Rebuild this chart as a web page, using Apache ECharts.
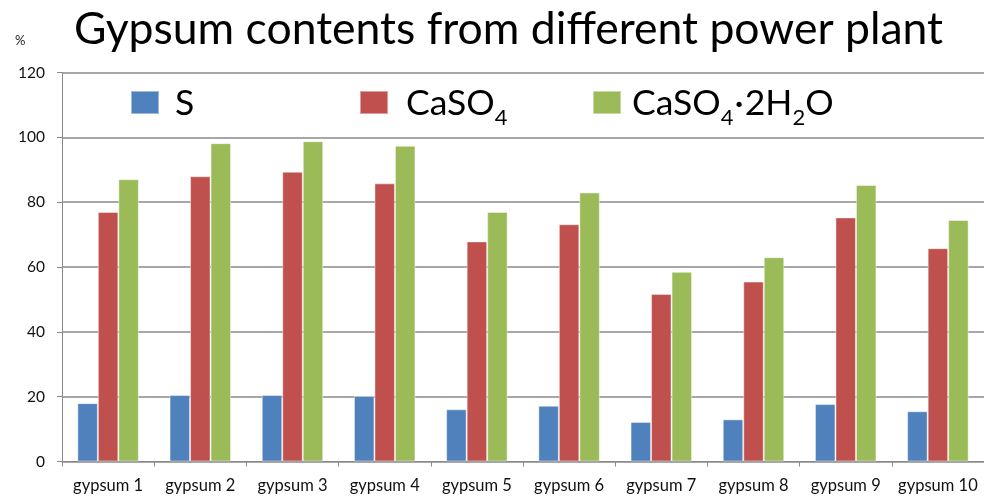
<!DOCTYPE html>
<html>
<head>
<meta charset="utf-8">
<script src="https://cdn.jsdelivr.net/npm/echarts@6/dist/echarts.min.js"></script>
<style>
  html, body { margin: 0; padding: 0; background: #fff; }
  #chart { width: 984px; height: 496px; }
</style>
</head>
<body>
<div id="chart"></div>
<script>
// Plant samples along the x axis
const categories = ['gypsum 1', 'gypsum 2', 'gypsum 3', 'gypsum 4', 'gypsum 5',
                    'gypsum 6', 'gypsum 7', 'gypsum 8', 'gypsum 9', 'gypsum 10'];
// Content in percent for each sample
const sulfur    = [18.0, 20.5, 20.5, 20.2, 16.1, 17.2, 12.2, 13.0, 17.7, 15.5];
const caso4     = [77.0, 88.0, 89.4, 85.8, 67.9, 73.2, 51.7, 55.5, 75.3, 65.8];
const dihydrate = [87.1, 98.2, 98.8, 97.4, 77.0, 83.0, 58.5, 63.0, 85.3, 74.5];
const yTicks = [0, 20, 40, 60, 80, 100, 120];

const FONT = 'Lato, "Open Sans", sans-serif';
const GRID_COLOR = '#8a8a8a';

// Formula labels: subscripts sit in a short box pinned to the line bottom
const legendRich = {
  n: { fontSize: 35.5, fontFamily: FONT, color: '#000', height: 40 },
  d: { fontSize: 35.5, fontFamily: FONT, color: '#000', height: 40, padding: [0, 1, 0, 1] },
  s: { fontSize: 22, fontFamily: FONT, color: '#000', height: 12, verticalAlign: 'bottom' }
};

function legendFor(name, left, gap) {
  return {
    data: [name],
    left: left,
    top: 86,
    itemWidth: 28,
    itemHeight: 23,
    itemGap: 0,
    icon: 'rect',
    padding: 0,
    textStyle: { rich: legendRich, padding: [3, 0, 0, gap] },
    formatter: function (n) {
      if (n === 'S') return '{n|S}';
      if (n === 'CaSO4') return '{n|CaSO}{s|4}';
      return '{n|CaSO}{s|4}{d|·}{n|2H}{s|2}{n|O}';
    }
  };
}

const barBorder = { borderColor: 'rgba(255,255,255,0.45)', borderWidth: 1 };

const chart = echarts.init(document.getElementById('chart'), null, { renderer: 'canvas' });
chart.setOption({
  animation: false,
  backgroundColor: '#fff',
  title: {
    text: 'Gypsum contents from different power plant',
    left: 69,
    top: 2,
    textStyle: { fontFamily: FONT, fontSize: 44.5, fontWeight: 'normal', color: '#000' }
  },
  graphic: [{
    type: 'text',
    left: 15,
    top: 34,
    style: { text: '%', fontFamily: FONT, fontSize: 13, fill: '#222' }
  }],
  legend: [
    legendFor('S', 130, 11),
    legendFor('CaSO4', 359, 13),
    legendFor('CaSO4·2H2O', 592, 6)
  ],
  grid: { left: 62, right: 0, top: 72.5, bottom: 34.5 },
  xAxis: {
    type: 'category',
    data: categories,
    axisLine: { lineStyle: { color: GRID_COLOR, width: 1 } },
    axisTick: { show: true, interval: 0, length: 5, lineStyle: { color: GRID_COLOR } },
    axisLabel: { interval: 0, fontFamily: FONT, fontSize: 16.5, color: '#111', margin: 16 }
  },
  yAxis: {
    type: 'value',
    min: yTicks[0],
    max: yTicks[yTicks.length - 1],
    interval: yTicks[1] - yTicks[0],
    axisLine: { show: true, lineStyle: { color: GRID_COLOR, width: 1 } },
    axisTick: { show: true, length: 5, lineStyle: { color: GRID_COLOR } },
    axisLabel: { fontFamily: FONT, fontSize: 15.5, color: '#111', margin: 17 },
    splitLine: { lineStyle: { color: GRID_COLOR, width: 1.5 } }
  },
  series: [
    { name: 'S', type: 'bar', data: sulfur, barWidth: 20.5, barGap: '0%',
      itemStyle: Object.assign({ color: '#4F81BD' }, barBorder) },
    { name: 'CaSO4', type: 'bar', data: caso4, barWidth: 20.5, barGap: '0%',
      itemStyle: Object.assign({ color: '#C0504D' }, barBorder) },
    { name: 'CaSO4·2H2O', type: 'bar', data: dihydrate, barWidth: 20.5, barGap: '0%',
      itemStyle: Object.assign({ color: '#9BBB59' }, barBorder) }
  ]
});
</script>
</body>
</html>
